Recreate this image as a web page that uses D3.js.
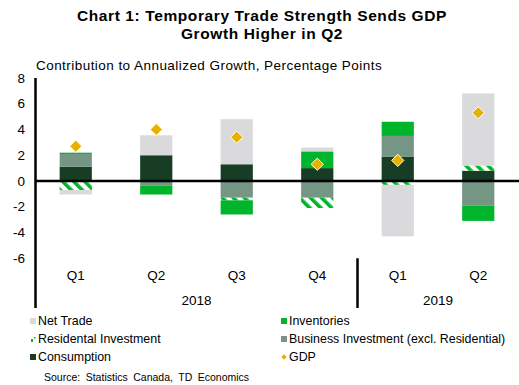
<!DOCTYPE html>
<html>
<head>
<meta charset="utf-8">
<script src="https://cdn.jsdelivr.net/npm/d3@7"></script>
<style>
  body { margin: 0; background: #fff; }
  svg text { font-family: Arial, "Liberation Sans", sans-serif; fill: #000; }
</style>
</head>
<body>
<div id="chart"></div>
<script>
// data
var quarters = ['Q1', 'Q2', 'Q3', 'Q4', 'Q1', 'Q2'];
var years = [{ label: '2018', from: 0, to: 4 }, { label: '2019', from: 4, to: 6 }];
var consumption = [1.1, 2.0, 1.3, 1.0, 1.9, 0.8];
var businessInv = [1.0, -0.35, -1.3, -1.3, 1.6, -1.9];
var residential = [-0.7, 0, -0.2, -0.8, -0.3, 0.4];
var inventories = [0.1, -0.7, -1.1, 1.3, 1.1, -1.2];
var netTrade = [-0.35, 1.55, 3.5, 0.3, -4.0, 5.6];
var gdp = [2.7, 4.0, 3.4, 1.3, 1.6, 5.3];
var yTicks = [8, 6, 4, 2, 0, -2, -4, -6];

var seriesKeys = ['consumption', 'businessInv', 'residential', 'inventories', 'netTrade'];
var colors = {
  consumption: '#173d24',
  businessInv: '#759585',
  residential: 'url(#hatch)',
  inventories: '#00b52b',
  netTrade: '#dadadc'
};

var rows = quarters.map(function(q, i) {
  return {
    idx: i,
    consumption: consumption[i],
    businessInv: businessInv[i],
    residential: residential[i],
    inventories: inventories[i],
    netTrade: netTrade[i]
  };
});

var W = 519, H = 385;
var m = { left: 35.5, right: 0.5, top: 78, bottom: 126.75 };

var svg = d3.select('#chart').append('svg')
  .attr('width', W)
  .attr('height', H);

var defs = svg.append('defs');
var hatch = defs.append('pattern')
  .attr('id', 'hatch')
  .attr('patternUnits', 'userSpaceOnUse')
  .attr('width', 7.8)
  .attr('height', 7.8)
  .attr('patternTransform', 'rotate(-45)');
hatch.append('rect').attr('width', 7.8).attr('height', 7.8).attr('fill', '#fff');
hatch.append('rect').attr('width', 3.6).attr('height', 7.8).attr('fill', '#00b52b');

var x = d3.scaleBand()
  .domain(d3.range(quarters.length))
  .range([m.left, W - m.right])
  .paddingInner(0.6)
  .paddingOuter(0.3);
var step = x.step();

var y = d3.scaleLinear()
  .domain([-6, 8])
  .range([H - m.bottom, m.top]);

// title
var title = svg.append('text')
  .attr('text-anchor', 'middle')
  .style('font-weight', 'bold')
  .style('font-size', '15.5px')
  .style('letter-spacing', '0.6px');
title.append('tspan').attr('x', 262).attr('y', 21).text('Chart 1: Temporary Trade Strength Sends GDP');
title.append('tspan').attr('x', 262).attr('y', 39).text('Growth Higher in Q2');

svg.append('text')
  .attr('x', 36)
  .attr('y', 70)
  .style('font-size', '13.5px')
  .style('letter-spacing', '0.45px')
  .text('Contribution to Annualized Growth, Percentage Points');

// y tick labels
svg.append('g').selectAll('text')
  .data(yTicks)
  .enter()
  .append('text')
  .attr('x', 25)
  .attr('y', function(d) { return y(d); })
  .attr('dy', '0.35em')
  .attr('text-anchor', 'end')
  .style('font-size', '13.5px')
  .text(function(d) { return d; });

// stacked bars
var stack = d3.stack().keys(seriesKeys).offset(d3.stackOffsetDiverging);
var layers = stack(rows);

svg.append('g').selectAll('g')
  .data(layers)
  .enter()
  .append('g')
  .attr('fill', function(d) { return colors[d.key]; })
  .selectAll('rect')
  .data(function(d) { return d; })
  .enter()
  .append('rect')
  .attr('x', function(d) { return x(d.data.idx); })
  .attr('width', x.bandwidth())
  .attr('y', function(d) { return y(Math.max(d[0], d[1])); })
  .attr('height', function(d) { return Math.abs(y(d[0]) - y(d[1])); });

// zero line
svg.append('line')
  .attr('x1', m.left).attr('x2', W)
  .attr('y1', y(0)).attr('y2', y(0))
  .attr('stroke', '#000').attr('stroke-width', 2.5);

// left axis line (runs through the category label area)
svg.append('line')
  .attr('x1', m.left).attr('x2', m.left)
  .attr('y1', m.top).attr('y2', 308)
  .attr('stroke', '#000').attr('stroke-width', 2.5);

// GDP diamonds
svg.append('g').selectAll('path')
  .data(gdp)
  .enter()
  .append('path')
  .attr('d', d3.symbol().type(d3.symbolDiamond2).size(95))
  .attr('transform', function(d, i) {
    return 'translate(' + [x(i) + x.bandwidth() / 2, y(d)] + ')';
  })
  .attr('fill', '#e8b000')
  .attr('stroke', '#fff')
  .attr('stroke-width', 1);

// category labels
svg.append('g').selectAll('text')
  .data(quarters)
  .enter()
  .append('text')
  .attr('x', function(d, i) { return x(i) + x.bandwidth() / 2; })
  .attr('y', 280)
  .attr('text-anchor', 'middle')
  .style('font-size', '13.5px')
  .text(function(d) { return d; });

svg.append('g').selectAll('text')
  .data(years)
  .enter()
  .append('text')
  .attr('x', function(d) { return m.left + step * (d.from + d.to) / 2; })
  .attr('y', 305)
  .attr('text-anchor', 'middle')
  .style('font-size', '13.5px')
  .text(function(d) { return d.label; });

// divider between years
svg.append('line')
  .attr('x1', m.left + step * 4).attr('x2', m.left + step * 4)
  .attr('y1', y(-6)).attr('y2', 308)
  .attr('stroke', '#000').attr('stroke-width', 2.5);

// legend
var legendItems = [
  { label: 'Net Trade', key: 'netTrade', col: 0, row: 0 },
  { label: 'Inventories', key: 'inventories', col: 1, row: 0 },
  { label: 'Residental Investment', key: 'residential', col: 0, row: 1 },
  { label: 'Business Investment (excl. Residential)', key: 'businessInv', col: 1, row: 1 },
  { label: 'Consumption', key: 'consumption', col: 0, row: 2 },
  { label: 'GDP', key: 'gdp', col: 1, row: 2 }
];
var legend = svg.append('g').selectAll('g')
  .data(legendItems)
  .enter()
  .append('g')
  .attr('transform', function(d) {
    return 'translate(' + [d.col ? 281 : 30, 321 + d.row * 18] + ')';
  });

legend.each(function(d) {
  var g = d3.select(this);
  if (d.key === 'gdp') {
    g.append('path')
      .attr('d', d3.symbol().type(d3.symbolDiamond2).size(18))
      .attr('transform', 'translate(3,0)')
      .attr('fill', '#e8b000');
  } else if (d.key === 'residential') {
    g.append('rect').attr('x', 1).attr('y', 0).attr('width', 2).attr('height', 3).attr('fill', '#00b52b');
    g.append('rect').attr('x', 4).attr('y', -2).attr('width', 1.5).attr('height', 1.5).attr('fill', '#00b52b');
  } else {
    g.append('rect')
      .attr('x', 0).attr('y', -3)
      .attr('width', 6).attr('height', 6)
      .attr('fill', colors[d.key]);
  }
  g.append('text')
    .attr('x', 8)
    .attr('dy', '0.35em')
    .style('font-size', '12.4px')
    .text(d.label);
});

svg.append('text')
  .attr('x', 44)
  .attr('y', 381)
  .style('font-size', '10.5px')
  .style('word-spacing', '2.6px')
  .text('Source: Statistics Canada, TD Economics');
</script>
</body>
</html>
